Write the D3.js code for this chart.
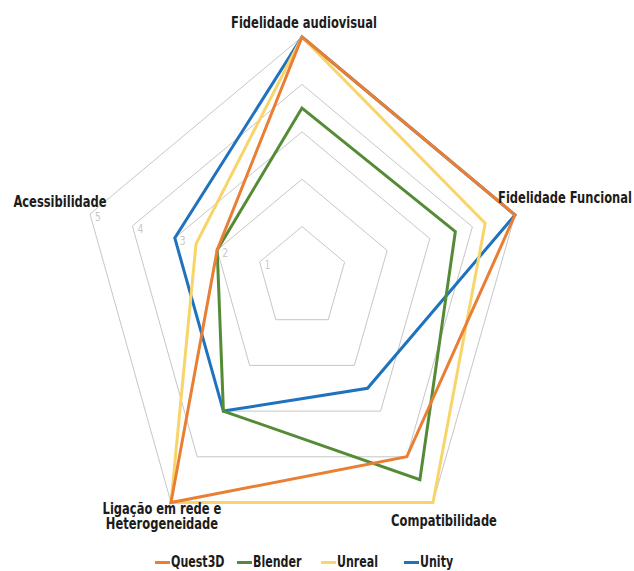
<!DOCTYPE html>
<html><head><meta charset="utf-8">
<script src="https://cdn.jsdelivr.net/npm/d3@7"></script>
<style>body{margin:0;background:#fff}</style>
</head><body>
<svg id="c" width="634" height="571"></svg>
<script>
// ---- data ----
const axes = ["Fidelidade audiovisual", "Fidelidade Funcional", "Compatibilidade", "Ligação em rede e|Heterogeneidade", "Acessibilidade"];
const seriesNames = ["Quest3D", "Blender", "Unreal", "Unity"];
const quest3d = [5, 5, 4, 5, 2];
const blender = [3.5, 3.6, 4.5, 3, 2];
const unreal = [5, 4.3, 5, 5, 2.5];
const unity = [5, 5, 2.5, 3, 3];
const ticks = [1, 2, 3, 4, 5];

// ---- layout ----
const colors = {Quest3D: "#E97F34", Blender: "#558B36", Unreal: "#F8D56B", Unity: "#1F72BD"};
const cx = 302, cy = 274;
const axisVec = [[0, -237], [213, -59], [131, 228.5], [-131, 228.5], [-212, -60]];
const labelPos = [[304, 28], [565, 203], [444, 526], [162, 514], [60, 207]];
const font = "'DejaVu Sans Condensed','DejaVu Sans',sans-serif";
const sx = 0.8;

const svg = d3.select("#c");
const r = d3.scaleLinear().domain([0, 5]).range([0, 1]);
const pt = (i, v) => [cx + axisVec[i][0] * r(v), cy + axisVec[i][1] * r(v)];
const line = d3.line().curve(d3.curveLinearClosed);

// rings
svg.append("g").selectAll("path").data(ticks).join("path")
  .attr("d", t => line(axes.map((a, i) => pt(i, t))))
  .attr("fill", "none").attr("stroke", "#c6c6c6").attr("stroke-width", 1);

// tick labels on Acessibilidade axis
svg.append("g").selectAll("text").data(ticks).join("text")
  .attr("transform", t => `translate(${pt(4, t)[0] + 5},${pt(4, t)[1] + 7}) scale(0.85,1)`)
  .text(d => d).attr("font-family", font).attr("font-size", 12).attr("fill", "#c8c8c8");

// series
const series = [
  {name: "Unity", values: unity},
  {name: "Unreal", values: unreal},
  {name: "Blender", values: blender},
  {name: "Quest3D", values: quest3d}
];
svg.append("g").selectAll("path").data(series).join("path")
  .attr("d", s => line(s.values.map((v, i) => pt(i, v))))
  .attr("fill", "none").attr("stroke", s => colors[s.name]).attr("stroke-width", 3)
  .attr("stroke-linejoin", "miter");

// axis labels
axes.forEach((a, i) => {
  a.split("|").forEach((l, k) => {
    svg.append("text").attr("transform", `translate(${labelPos[i][0]},${labelPos[i][1] + k * 15}) scale(${sx},1)`)
      .attr("text-anchor", "middle").attr("font-family", font).attr("font-weight", "bold")
      .attr("font-size", 16).attr("fill", "#1c1c1c").text(l);
  });
});

// legend
const legX = [155, 237, 321, 404];
const lg = svg.append("g").selectAll("g").data(seriesNames).join("g")
  .attr("transform", (d, i) => `translate(${legX[i]},562.5)`);
lg.append("line").attr("x1", 0).attr("x2", 15).attr("stroke", d => colors[d]).attr("stroke-width", 3);
lg.append("text").attr("transform", "translate(16,4.5) scale(0.82,1)").text(d => d).attr("font-family", font)
  .attr("font-weight", "bold").attr("font-size", 15).attr("fill", "#1c1c1c");
</script>
</body></html>
